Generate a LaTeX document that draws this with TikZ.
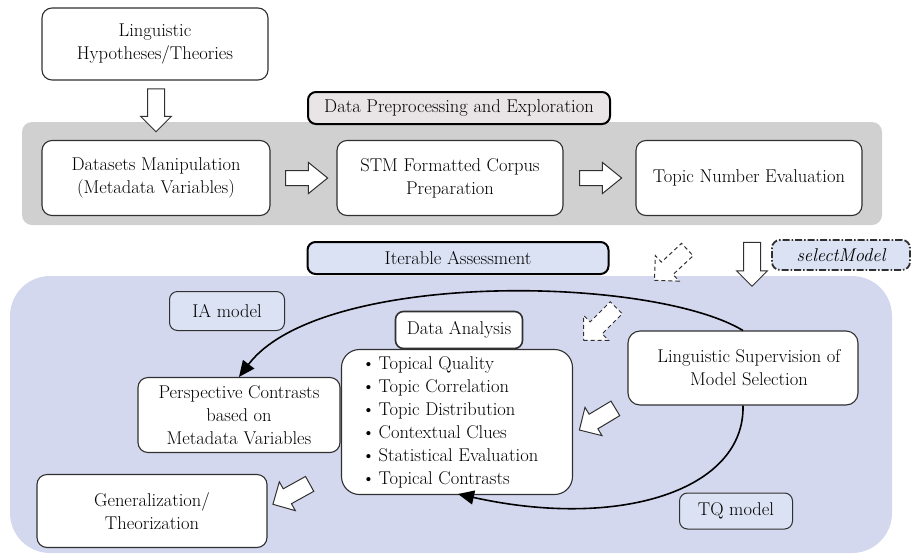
\documentclass[tikz,border=0pt]{standalone}
\usetikzlibrary{shapes.arrows,arrows.meta}
\definecolor{bluepanel}{HTML}{D4D8EE}
\definecolor{graypanel}{HTML}{D0D0D0}
\definecolor{lblblue}{HTML}{DAE2F3}
\definecolor{lblgray}{HTML}{E9E5E7}
\definecolor{edge}{HTML}{303030}
\newcommand\fs{\fontsize{18.5}{23}\selectfont}
\tikzset{
 box/.style={draw=edge, line width=1.1pt, fill=white, rounded corners=10pt, align=center, inner sep=0pt, font=\fs},
 lbl/.style={draw=black, line width=2pt, rounded corners=8pt, align=center, inner sep=0pt, font=\fs},
 tag/.style={draw=edge, line width=1pt, fill=lblblue, rounded corners=8pt, inner sep=0pt, font=\fs},
 barrow/.style={single arrow, draw=edge, fill=white, line width=1pt, inner sep=8pt, single arrow head extend=7pt},
 dbarrow/.style={barrow, dash pattern=on 4pt off 3pt},
 link/.style={line width=1.6pt, -{Triangle[length=16pt,width=14pt]}},
}
\begin{document}
\begin{tikzpicture}[x=1pt,y=-1pt]
\useasboundingbox (0,0) rectangle (913,555);
% panels
\fill[graypanel, rounded corners=10pt] (22,122) rectangle (882,225);
\fill[bluepanel, rounded corners=40pt] (10,276) rectangle (892,553);

% top
\node[box, minimum width=226pt, minimum height=72pt] (hyp) at (155,44) {Linguistic\\Hypotheses/Theories};
\node[lbl, fill=lblgray, minimum width=302pt, minimum height=32pt] (dpe) at (459,108) {Data Preprocessing and Exploration};
\node[box, minimum width=228pt, minimum height=75pt] (dm) at (156,178) {Datasets Manipulation\\(Metadata Variables)};
\node[box, minimum width=226pt, minimum height=75pt] (stm) at (450,178) {STM Formatted Corpus\\Preparation};
\node[box, minimum width=226pt, minimum height=75pt] (tne) at (749,178) {Topic Number Evaluation};

\node[barrow, minimum height=43pt, rotate=-90] (a1) at (156,106) {};
\node[barrow, minimum height=42pt, inner sep=7pt, single arrow head extend=8pt, single arrow tip angle=78] (a2) at (302,178) {};
\node[barrow, minimum height=42pt, inner sep=7pt, single arrow head extend=8pt, single arrow tip angle=78] (a3) at (596,178) {};

% middle labels
\node[lbl, fill=lblblue, minimum width=301pt, minimum height=32pt] (ia) at (458,258) {Iterable Assessment};
\node[tag, line width=1.8pt, dash pattern=on 7pt off 2pt on 1.5pt off 2pt, minimum width=138pt, minimum height=30pt] (sel) at (841,255) {\itshape selectModel};
\node[barrow, minimum height=44pt, rotate=-90] (a4) at (752,260) {};
\node[dbarrow, minimum height=45pt, single arrow head extend=9pt, rotate=223] (d1) at (674,262) {};

% lower panel
\node[tag, minimum width=115pt, minimum height=39pt] (iam) at (227,311) {IA model};
\node[box, line width=1.6pt, rounded corners=8pt, minimum width=127pt, minimum height=37pt] (da) at (459,330) {Data Analysis};
\node[box, align=left, minimum width=231pt, minimum height=145pt, rounded corners=18pt] (bl) at (457,422) {%
\makebox[17pt][l]{\textbullet}Topical Quality\\
\makebox[17pt][l]{\textbullet}Topic Correlation\\
\makebox[17pt][l]{\textbullet}Topic Distribution\\
\makebox[17pt][l]{\textbullet}Contextual Clues\\
\makebox[17pt][l]{\textbullet}Statistical Evaluation\rule{14pt}{0pt}\\
\makebox[17pt][l]{\textbullet}Topical Contrasts};
\node[dbarrow, minimum height=46pt, single arrow head extend=9pt, rotate=225] (d2) at (603,321) {};
\node[box, minimum width=230pt, minimum height=74pt, rounded corners=12pt] (lsm) at (743,368) {\hspace*{12pt}Linguistic Supervision of\\\hspace*{12pt}Model Selection};
\node[barrow, minimum height=42pt, single arrow head extend=8pt, rotate=211] (a5) at (601,417) {};
\node[box, minimum width=202pt, minimum height=75pt] (pc) at (239,415) {Perspective Contrasts\\based on\\Metadata Variables};
\node[box, minimum width=230pt, minimum height=73pt] (gen) at (152,511) {Generalization/\\Theorization};
\node[barrow, minimum height=42pt, single arrow head extend=8pt, rotate=209] (a6) at (295,492) {};
\node[tag, minimum width=113pt, minimum height=36pt] (tq) at (736,511) {TQ model};

% curved connectors
\draw[link] (lsm.north) .. controls (650,275) and (320,270) .. (pc.north);
\draw[link] (lsm.south) .. controls (745,490) and (620,530) .. (458,494);
\end{tikzpicture}
\end{document}
